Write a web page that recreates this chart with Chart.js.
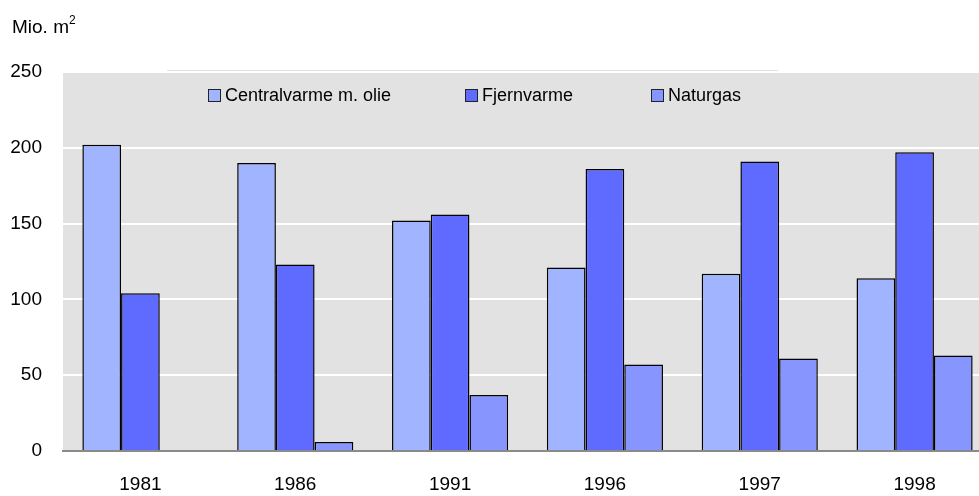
<!DOCTYPE html>
<html>
<head>
<meta charset="utf-8">
<script src="https://cdn.jsdelivr.net/npm/chart.js@4"></script>
<style>
  html, body { margin: 0; padding: 0; background: #fff; overflow: hidden; }
  #wrap { position: relative; width: 1000px; height: 496px; }
  #unit { position: absolute; left: 12px; top: 15px; font: 19px 'Liberation Sans', Arial, sans-serif; color: #000; }
  #unit sup { font-size: 12px; position: relative; top: -2px; }
</style>
</head>
<body>
<div id="wrap">
  <canvas id="chart" width="1000" height="496"></canvas>
  <div id="unit">Mio. m<sup>2</sup></div>
</div>
<script>
const years = ['1981', '1986', '1991', '1996', '1997', '1998']
const centralvarme = [202, 190, 152, 121, 117, 114]
const fjernvarme = [104, 123, 156, 186, 191, 197]
const naturgas = [0, 6, 37, 57, 61, 63]
const yTicks = [0, 50, 100, 150, 200, 250]

const FONT = "'Liberation Sans', Arial, sans-serif"

// gray plot background + legend strip
const bgPlugin = {
  id: 'bg',
  beforeDraw(chart) {
    const { ctx, chartArea } = chart
    ctx.save()
    ctx.fillStyle = '#e2e2e2'
    ctx.fillRect(chartArea.left, chartArea.top, chartArea.right - chartArea.left, chartArea.bottom - chartArea.top)
    ctx.fillRect(167, chartArea.top - 2, 611, 2)
    ctx.restore()
  },
}

// legend drawn inside the plot, at the top
const legendPlugin = {
  id: 'inlineLegend',
  afterDraw(chart) {
    const { ctx } = chart
    const xs = [208, 465, 651]
    const y = 95
    ctx.save()
    ctx.font = '18px ' + FONT
    ctx.textBaseline = 'middle'
    chart.data.datasets.forEach((ds, i) => {
      ctx.fillStyle = ds.backgroundColor
      ctx.fillRect(xs[i], y - 6, 12, 12)
      ctx.strokeStyle = '#222'
      ctx.lineWidth = 1
      ctx.strokeRect(xs[i] + 0.5, y - 5.5, 12, 12)
      ctx.fillStyle = '#000'
      ctx.fillText(ds.label, xs[i] + 17, y + 1)
    })
    ctx.restore()
  },
}

new Chart(document.getElementById('chart'), {
  type: 'bar',
  data: {
    labels: years,
    datasets: [
      { label: 'Centralvarme m. olie', data: centralvarme, backgroundColor: '#a1b4ff' },
      { label: 'Fjernvarme', data: fjernvarme, backgroundColor: '#5f6bff' },
      { label: 'Naturgas', data: naturgas, backgroundColor: '#8796ff' },
    ].map(d => ({ ...d, borderColor: '#000', borderWidth: 1.5, categoryPercentage: 0.75, barPercentage: 1 })),
  },
  options: {
    responsive: false,
    animation: false,
    layout: { padding: { top: 72, right: 8, left: 0, bottom: 0 } },
    plugins: { legend: { display: false }, tooltip: { enabled: false } },
    scales: {
      x: {
        grid: { display: false, drawTicks: false },
        border: { display: true, color: '#8a8a8a', width: 2 },
        ticks: { color: '#000', font: { family: FONT, size: 19 }, padding: 22 },
        afterFit(s) { s.height = 45 },
      },
      y: {
        min: 0,
        max: 250,
        afterBuildTicks(s) { s.ticks = yTicks.map(v => ({ value: v })) },
        grid: { color: '#ffffff', lineWidth: 2, drawTicks: false },
        border: { display: false },
        ticks: { color: '#000', font: { family: FONT, size: 19 }, padding: 21 },
        afterFit(s) { s.width = 63 },
      },
    },
  },
  plugins: [bgPlugin, legendPlugin],
})
</script>
</body>
</html>
